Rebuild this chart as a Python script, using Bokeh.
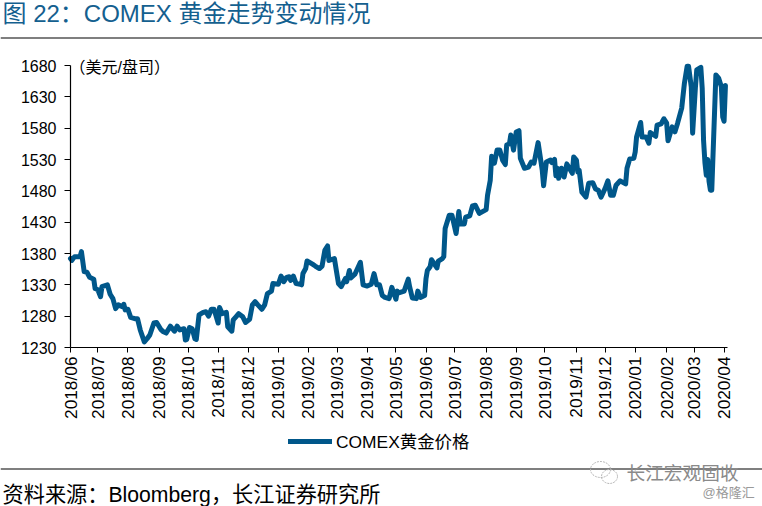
import math
import numpy as np
from bokeh.plotting import figure
from bokeh.embed import file_html
from bokeh.resources import INLINE
from bokeh.models import FixedTicker, Label, Legend, LegendItem, LinearAxis, PolyAnnotation

title_text = "图 22：COMEX 黄金走势变动情况"
unit_text = "（美元/盘司）"
source_text = "资料来源：Bloomberg，长江证券研究所"
mark_text = "长江宏观固收"
mark_sub = "@格隆汇"
series_name = "COMEX黄金价格"

month_labels = ["2018/06","2018/07","2018/08","2018/09","2018/10","2018/11","2018/12",
                "2019/01","2019/02","2019/03","2019/04","2019/05","2019/06","2019/07",
                "2019/08","2019/09","2019/10","2019/11","2019/12","2020/01","2020/02",
                "2020/03","2020/04"]
month_days = [0,20,42,65,86,108,130,152,174,195,217,238,260,281,304,326,347,370,391,413,436,456,478]
y_ticks = [1230,1280,1330,1380,1430,1480,1530,1580,1630,1680]

day = [0,1,3,7,8,10,12,14,17,18,20,22,23,27,29,31,33,35,38,39,40,42,44,47,49,51,54,56,58,61,63,66,68,70,73,76,
       78,80,83,84,85,87,89,91,92,94,97,99,101,103,105,108,109,111,114,115,118,119,121,123,126,128,131,133,135,137,
       140,142,144,147,148,152,154,156,158,160,161,163,165,168,169,170,172,173,177,179,182,184,186,188,189,193,195,
       196,198,201,202,204,205,208,212,214,217,220,222,224,226,228,230,233,235,238,239,240,244,247,248,250,253,254,
       256,259,260,261,263,264,268,269,272,273,274,275,277,279,282,284,285,288,289,292,294,296,299,304,305,307,308,
       310,312,314,316,318,319,321,322,324,326,328,329,332,335,337,339,342,345,346,348,351,352,354,355,356,357,359,
       361,363,367,368,370,371,372,374,377,379,382,384,386,388,391,393,395,397,399,402,406,407,409,412,413,414,417,
       418,421,423,424,428,429,432,434,436,437,440,442,444,447,449,451,452,454,455,457,458,461,462,463,464,465,466,
       467,468,469,472,474,476,477,478,479]
price = [1372,1369,1375,1375,1383,1351,1350,1342,1339,1324,1322,1311,1327,1330,1315,1308,1292,1298,1295,1299,1290,
         1291,1278,1276,1276,1258,1239,1244,1250,1269,1270,1259,1255,1253,1264,1256,1264,1258,1260,1242,1243,1262,
         1260,1244,1243,1282,1286,1287,1280,1291,1291,1269,1294,1284,1286,1263,1256,1274,1279,1284,1279,1270,1275,
         1298,1303,1298,1291,1298,1316,1320,1332,1331,1344,1335,1342,1343,1337,1344,1332,1331,1330,1348,1356,1368,
         1363,1360,1356,1360,1385,1392,1369,1372,1345,1332,1327,1340,1335,1353,1341,1347,1366,1330,1328,1331,1348,
         1330,1330,1313,1310,1308,1326,1307,1320,1317,1320,1339,1327,1309,1308,1320,1310,1313,1340,1353,1359,1370,
         1357,1368,1372,1375,1420,1427,1441,1441,1412,1447,1427,1427,1438,1440,1456,1457,1444,1450,1473,1497,1535,
         1524,1545,1545,1529,1522,1553,1555,1569,1545,1574,1576,1532,1516,1518,1526,1524,1557,1513,1488,1526,1529,
         1525,1530,1504,1516,1500,1516,1502,1523,1508,1534,1529,1510,1513,1478,1470,1492,1493,1483,1481,1470,1484,
         1496,1473,1473,1489,1496,1491,1516,1531,1532,1542,1566,1589,1566,1566,1556,1573,1567,1585,1587,1595,1588,
         1560,1582,1574,1588,1612,1652,1679,1679,1646,1572,1644,1673,1677,1644,1560,1525,1505,1530,1495,1481,1481,
         1665,1660,1646,1598,1591,1648]

LATIN_CJK = "'Liberation Sans', 'Noto Sans CJK SC', sans-serif"
BLUE = "#00578A"

# The frame fills the whole canvas; the axes sit inside it at fixed locations.
W, H = 762, 506
PLOT_L, PLOT_R, PLOT_T, PLOT_B = 70, 727, 65, 347
X_MIN, X_MAX, Y_MIN, Y_MAX = 0, 480.5, 1230, 1680
sx = (PLOT_R - PLOT_L) / (X_MAX - X_MIN)
sy = (PLOT_B - PLOT_T) / (Y_MAX - Y_MIN)

p = figure(width=W, height=H, output_backend="svg", toolbar_location=None,
           x_range=(X_MIN - PLOT_L / sx, X_MAX + (W - PLOT_R) / sx),
           y_range=(Y_MIN - (H - PLOT_B) / sy, Y_MAX + PLOT_T / sy),
           min_border=0, x_axis_location=None, y_axis_location=None,
           background_fill_color="white", border_fill_color="white", outline_line_color=None)
p.grid.visible = False

p.line(day, price, line_color=BLUE, line_width=5, line_join="round", line_cap="round")

xaxis = LinearAxis(fixed_location=Y_MIN, bounds=(X_MIN, X_MAX), ticker=FixedTicker(ticks=month_days),
                   major_label_overrides=dict(zip(month_days, month_labels)),
                   major_label_orientation=math.pi / 2, major_label_text_font=LATIN_CJK,
                   major_label_text_font_size="17.3px", major_label_text_color="#000000",
                   major_label_standoff=4, major_tick_out=5, major_tick_in=0, minor_tick_line_color=None,
                   axis_line_color="#000000", major_tick_line_color="#000000", axis_line_width=1.2)
yaxis = LinearAxis(fixed_location=X_MIN, bounds=(Y_MIN, Y_MAX), ticker=FixedTicker(ticks=y_ticks),
                   major_label_text_font=LATIN_CJK, major_label_text_font_size="16px",
                   major_label_text_color="#000000", major_label_standoff=8, major_tick_out=6,
                   major_tick_in=0, minor_tick_line_color=None, axis_line_color="#000000",
                   major_tick_line_color="#000000", axis_line_width=1.2)
p.add_layout(xaxis, "below")
p.add_layout(yaxis, "left")


def text(px, py, s, size, color="#000000"):
    p.add_layout(Label(x=px, y=H - py, x_units="screen", y_units="screen", text=s,
                       text_font=LATIN_CJK, text_font_size=f"{size}px", text_color=color,
                       text_align="left", text_baseline="middle"))


def poly(xs, ys, color="#000000", width=1.2, dash="solid"):
    p.add_layout(PolyAnnotation(xs=list(xs), ys=[H - v for v in ys], xs_units="screen", ys_units="screen",
                                fill_alpha=0, line_alpha=1, line_color=color, line_width=width, line_dash=dash))


text(2, 13, title_text, 24, "#14608F")
poly([0, W], [37.5, 37.5])
text(69, 67, unit_text, 16)
poly([0, W], [468.5, 468.5])
text(2, 494, source_text, 21.2)
text(626, 473, mark_text, 18.7, "#8A8A8A")
text(702, 492, mark_sub, 13, "#9A9A9A")
t = np.linspace(0, 2 * np.pi, 40)
poly(600 + 10 * np.cos(t), 469 + 8 * np.sin(t), "#B4B4B4", 1, "2 1")
poly(609 + 8 * np.cos(t), 476 + 7 * np.sin(t), "#B4B4B4", 1, "2 1")

# legend key: same style as the series, its own points lie off the canvas
key = p.line([-70, -60], [1000, 1000], line_color=BLUE, line_width=5, line_cap="round")
p.add_layout(Legend(items=[LegendItem(label=series_name, renderers=[key])],
                    location=(288, 53), orientation="horizontal", border_line_color=None,
                    background_fill_alpha=0, label_text_font=LATIN_CJK, label_text_font_size="17.4px",
                    label_text_color="#000000", glyph_width=44, glyph_height=16,
                    label_standoff=4, padding=8, margin=0), "center")

open("out.html", "w").write(file_html(p, INLINE))
